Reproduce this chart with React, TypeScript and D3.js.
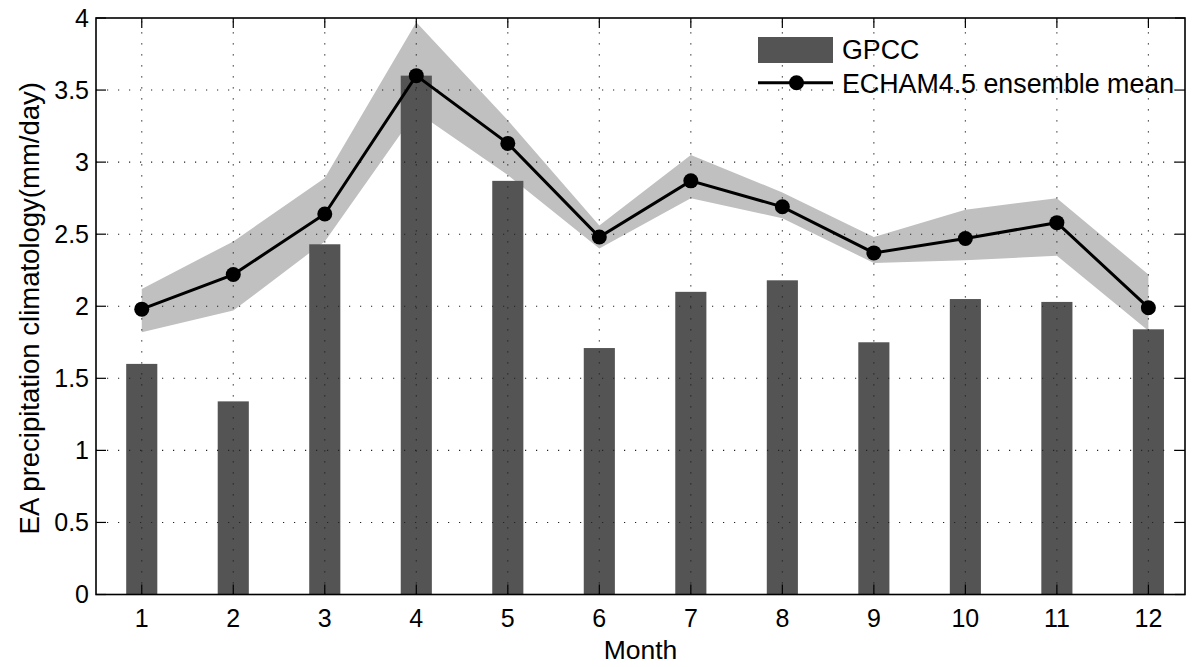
import React from 'react';
import * as d3 from 'd3';

// values
const months = [1, 2, 3, 4, 5, 6, 7, 8, 9, 10, 11, 12];
const gpcc = [1.60, 1.34, 2.43, 3.60, 2.87, 1.71, 2.10, 2.18, 1.75, 2.05, 2.03, 1.84];
const echamMean = [1.98, 2.22, 2.64, 3.60, 3.13, 2.48, 2.87, 2.69, 2.37, 2.47, 2.58, 1.99];
const echamUpper = [2.12, 2.45, 2.89, 3.97, 3.29, 2.56, 3.05, 2.79, 2.48, 2.67, 2.75, 2.22];
const echamLower = [1.82, 1.97, 2.45, 3.35, 2.91, 2.40, 2.75, 2.61, 2.30, 2.32, 2.35, 1.83];
const yTicks = [0, 0.5, 1, 1.5, 2, 2.5, 3, 3.5, 4];
const yTickLabels = ['0', '0.5', '1', '1.5', '2', '2.5', '3', '3.5', '4'];

const W = 1195;
const H = 667;
const left = 96;
const right = 1185;
const top = 18;
const bottom = 594.5;
const font = '"Liberation Sans", Arial, Helvetica, sans-serif';

const App = () => {
    const x = d3.scaleLinear().domain([0.5, 12.4]).range([left, right]);
    const y = d3.scaleLinear().domain([0, 4]).range([bottom, top]);
    const barW = (x(2) - x(1)) * 0.34;

    const band = d3.area<number>()
        .x((d, i) => x(months[i]))
        .y0((d, i) => y(echamLower[i]))
        .y1((d, i) => y(echamUpper[i]));

    const line = d3.line<number>()
        .x((d, i) => x(months[i]))
        .y(d => y(d));

    const tickLen = 10;

    return (
        <div style={{ position: 'absolute', left: 0, top: 0 }}>
            <svg width={W} height={H} style={{ display: 'block', background: '#fff' }}>
                {/* spread of the ensemble */}
                <path d={band(echamMean) || ''} fill="#c0c0c0" />

                {/* GPCC bars */}
                {gpcc.map((v, i) => (
                    <rect key={i} x={x(months[i]) - barW / 2} y={y(v)} width={barW} height={y(0) - y(v)} fill="#545454" />
                ))}

                {/* dotted grid */}
                <g stroke="#222" strokeWidth={1.1} strokeDasharray="1.2,9.8">
                    {months.map(m => (
                        <line key={'gx' + m} x1={x(m)} x2={x(m)} y1={bottom} y2={top} />
                    ))}
                    {yTicks.slice(1, -1).map(t => (
                        <line key={'gy' + t} x1={left} x2={right} y1={y(t)} y2={y(t)} />
                    ))}
                </g>

                {/* ensemble mean */}
                <path d={line(echamMean) || ''} fill="none" stroke="#000" strokeWidth={3} />
                {echamMean.map((v, i) => (
                    <circle key={i} cx={x(months[i])} cy={y(v)} r={7.5} fill="#000" />
                ))}

                {/* box and ticks */}
                <rect x={left} y={top} width={right - left} height={bottom - top} fill="none" stroke="#000" strokeWidth={1.6} />
                <g stroke="#000" strokeWidth={1.2}>
                    {months.map(m => (
                        <g key={'tx' + m}>
                            <line x1={x(m)} x2={x(m)} y1={bottom} y2={bottom - tickLen} />
                            <line x1={x(m)} x2={x(m)} y1={top} y2={top + tickLen} />
                        </g>
                    ))}
                    {yTicks.map(t => (
                        <g key={'ty' + t}>
                            <line x1={left} x2={left + tickLen} y1={y(t)} y2={y(t)} />
                            <line x1={right} x2={right - tickLen} y1={y(t)} y2={y(t)} />
                        </g>
                    ))}
                </g>

                {/* tick labels */}
                <g fontFamily={font} fontSize={25} fill="#000">
                    {months.map(m => (
                        <text key={'lx' + m} x={x(m)} y={bottom + 32.5} textAnchor="middle">{m}</text>
                    ))}
                    {yTicks.map((t, i) => (
                        <text key={'ly' + t} x={left - 7} y={y(t) + 8.5} textAnchor="end">{yTickLabels[i]}</text>
                    ))}
                </g>

                {/* axis labels */}
                <text x={(left + right) / 2} y={659} textAnchor="middle" fontFamily={font} fontSize={26.5}>Month</text>
                <text transform={`translate(39,${(top + bottom) / 2 + 2}) rotate(-90)`} textAnchor="middle" fontFamily={font} fontSize={27.5}>
                    EA precipitation climatology(mm/day)
                </text>

                {/* legend */}
                <g fontFamily={font} fontSize={26.8}>
                    <rect x={758} y={37} width={75} height={26} fill="#545454" />
                    <text x={842} y={58.5}>GPCC</text>
                    <line x1={758} x2={833} y1={82.7} y2={82.7} stroke="#000" strokeWidth={3} />
                    <circle cx={796.5} cy={82.7} r={7.5} fill="#000" />
                    <text x={842} y={93}>ECHAM4.5 ensemble mean</text>
                </g>
            </svg>
        </div>
    );
};

export default App;
